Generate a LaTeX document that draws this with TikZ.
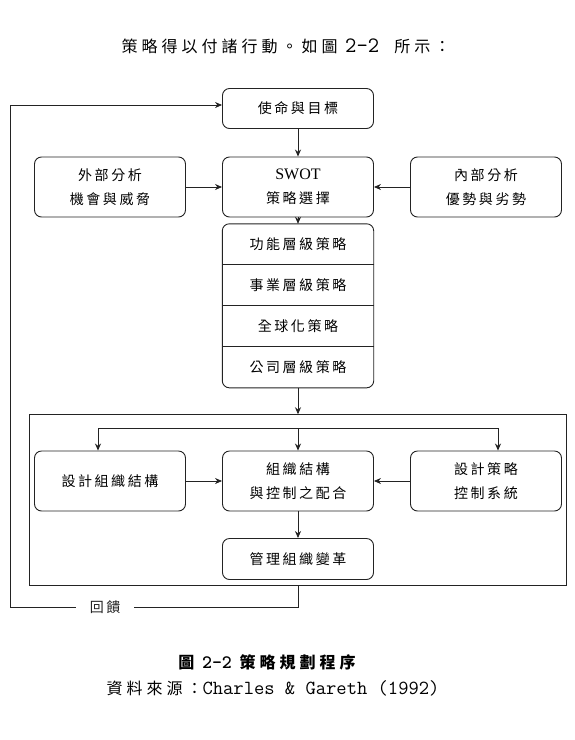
\documentclass[tikz,border=0pt]{standalone}
\usepackage{fontspec}
\setmainfont{Noto Sans CJK TC}
\newfontfamily\cjkbox{Noto Sans CJK TC}[LetterSpace=18]
\newfontfamily\cjkwide{Noto Sans CJK TC}[LetterSpace=25]
\newfontfamily\swotfont{Liberation Serif}
\newcommand\latinmono{\ttfamily}
\definecolor{lineblack}{RGB}{35, 35, 35}
\usetikzlibrary{arrows.meta, positioning, calc}

\begin{document}
\begin{tikzpicture}[x=1pt, y=-1pt,
  box/.style={draw=lineblack, line width=0.9pt, rounded corners=7pt, minimum width=151pt, minimum height=40pt, align=center, inner sep=0pt, font=\cjkbox\fontsize{14pt}{24pt}\selectfont},
  tallbox/.style={box, minimum height=60pt},
  row/.style={minimum width=151pt, minimum height=40.6pt, inner sep=0pt, font=\cjkbox\fontsize{14pt}{24pt}\selectfont},
  arr/.style={-{Stealth[length=7pt, width=6pt]}, line width=0.8pt, lineblack}
]
  \useasboundingbox (0,0) rectangle (575,740);

  \node[font=\cjkwide\fontsize{16pt}{20pt}\selectfont] (intro) at (286,46) {策略得以付諸行動。如圖\ {\latinmono\fontsize{22pt}{20pt}\selectfont 2-2}\ \ 所示：};

  % strategy formulation
  \node[box] (mission) at (298,108.5) {使命與目標};
  \node[tallbox] (swot) at (298,187) {{\swotfont\fontsize{16pt}{16pt}\selectfont SWOT}\\策略選擇};
  \node[tallbox] (external) at (110,187) {外部分析\\機會與威脅};
  \node[tallbox] (internal) at (486,187) {內部分析\\優勢與劣勢};

  \draw[arr] (mission) -- (swot);
  \draw[arr] (external) -- (swot);
  \draw[arr] (internal) -- (swot);

  % stacked levels
  \node[row] (functional) at (298,244.3) {功能層級策略};
  \node[row, below=0pt of functional] (business) {事業層級策略};
  \node[row, below=0pt of business] (global) {全球化策略};
  \node[row, below=0pt of global] (corporate) {公司層級策略};
  \draw[lineblack, line width=0.9pt, rounded corners=7pt] (functional.north west) rectangle (corporate.south east);
  \foreach \r in {functional, business, global}
    \draw[lineblack, line width=0.9pt] (\r.south west) -- (\r.south east);

  \draw[arr] (swot) -- (functional.north);

  % implementation
  \node[draw=lineblack, line width=0.9pt, minimum width=537pt, minimum height=170.6pt, inner sep=0pt] (orgframe) at (298,500) {};
  \draw[arr] (corporate.south) -- (orgframe.north);

  \node[tallbox] (designorg) at (110,481) {設計組織結構};
  \node[tallbox] (fit) at (298,481) {組織結構\\與控制之配合};
  \node[tallbox] (designctrl) at (486,481) {設計策略\\控制系統};
  \node[box, minimum height=41pt] (change) at (298,559) {管理組織變革};

  \coordinate (split) at (298,428);
  \draw[arr] (split) -| ([xshift=-12pt]designorg.north);
  \draw[arr] (split) -| ([xshift=12pt]designctrl.north);
  \draw[arr] (split) -- (fit.north);
  \draw[arr] (designorg) -- (fit);
  \draw[arr] (designctrl) -- (fit);
  \draw[arr] (fit) -- (change);

  % feedback loop
  \coordinate (fbcorner) at (10,607);
  \draw[arr] (orgframe.south) |- (fbcorner)
    node[pos=0.835, fill=white, inner xsep=14pt, font=\cjkbox\fontsize{14pt}{16pt}\selectfont] (feedback) {回饋}
    |- ([yshift=3.5pt]mission.west);

  \node[font=\bfseries\cjkwide\fontsize{16pt}{20pt}\selectfont] (caption) at (267,662) {圖\ {\latinmono\bfseries\fontsize{19pt}{20pt}\selectfont 2-2}\ 策略規劃程序};
  \node[font=\cjkwide\fontsize{16pt}{20pt}\selectfont] (source) at (273,688) {資料來源：{\latinmono\fontsize{20pt}{20pt}\selectfont Charles \& Gareth (1992)}};
\end{tikzpicture}
\end{document}
